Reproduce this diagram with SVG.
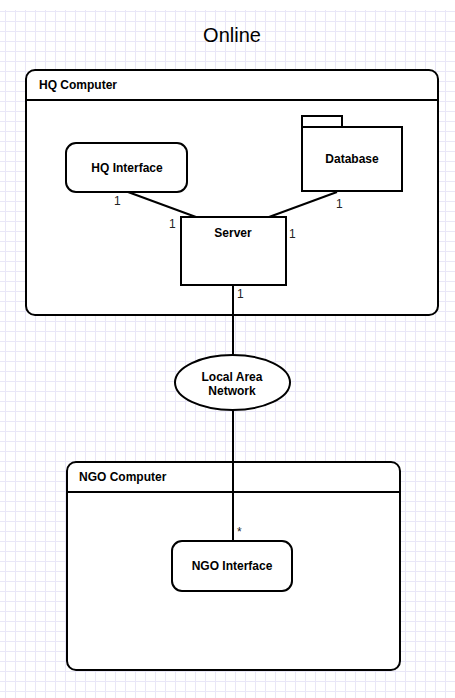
<svg xmlns="http://www.w3.org/2000/svg" width="455" height="698" viewBox="0 0 455 698">
<style>
.box{fill:#fff;stroke:#000;stroke-width:2}
.ln{fill:none;stroke:#000;stroke-width:2}
.t{font-family:"Liberation Sans",Arial,sans-serif;font-size:12px;font-weight:bold;fill:#000}
.c{text-anchor:middle}
.m{font-family:"Liberation Sans",Arial,sans-serif;font-size:12px;fill:#222}
</style>
<defs>
<pattern id="grid" x="5" y="11" width="10" height="10" patternUnits="userSpaceOnUse">
<path d="M0 0.5H10M0.5 0V10" fill="none" stroke="#e9e7f7" stroke-width="1"/>
</pattern>
</defs>
<rect width="455" height="698" fill="#fff"/>
<rect x="0" y="10" width="455" height="688" fill="url(#grid)"/>
<text x="232" y="42" text-anchor="middle" font-family="'Liberation Sans',Arial,sans-serif" font-size="20" fill="#000">Online</text>
<g id="hq-computer">
<rect class="box" x="26" y="70" width="412" height="245" rx="9"/>
<line class="ln" x1="26" y1="100" x2="438" y2="100"/>
<text class="t" x="39" y="89">HQ Computer</text>
</g>
<g id="ngo-computer">
<rect class="box" x="67" y="462" width="333" height="208" rx="9"/>
<line class="ln" x1="67" y1="492" x2="400" y2="492"/>
<text class="t" x="79" y="481">NGO Computer</text>
</g>
<g id="connectors">
<line class="ln" x1="128" y1="192" x2="196" y2="217"/>
<line class="ln" x1="337" y1="192" x2="269" y2="217"/>
<line class="ln" x1="233" y1="285" x2="233" y2="355"/>
<line class="ln" x1="233" y1="410" x2="233" y2="541"/>
<text class="m" x="114" y="205">1</text>
<text class="m" x="169" y="228">1</text>
<text class="m" x="336" y="208">1</text>
<text class="m" x="289" y="238">1</text>
<text class="m" x="237" y="298">1</text>
<text class="m" x="237" y="536" font-size="10">*</text>
</g>
<g id="hq-interface">
<rect class="box" x="66" y="143" width="121" height="49" rx="10"/>
<text class="t c" x="127" y="172">HQ Interface</text>
</g>
<g id="database">
<rect class="box" x="302" y="116" width="40" height="11"/>
<rect class="box" x="302" y="127" width="100" height="64"/>
<text class="t c" x="352" y="163">Database</text>
</g>
<g id="server">
<rect class="box" x="181" y="217" width="105" height="68"/>
<text class="t c" x="233" y="237">Server</text>
</g>
<g id="lan">
<ellipse class="box" cx="232.5" cy="382.5" rx="57.5" ry="27.5"/>
<text class="t c" x="232" y="381">Local Area</text>
<text class="t c" x="232" y="395">Network</text>
</g>
<g id="ngo-interface">
<rect class="box" x="172" y="541" width="120" height="50" rx="10"/>
<text class="t c" x="232" y="570">NGO Interface</text>
</g>
</svg>
